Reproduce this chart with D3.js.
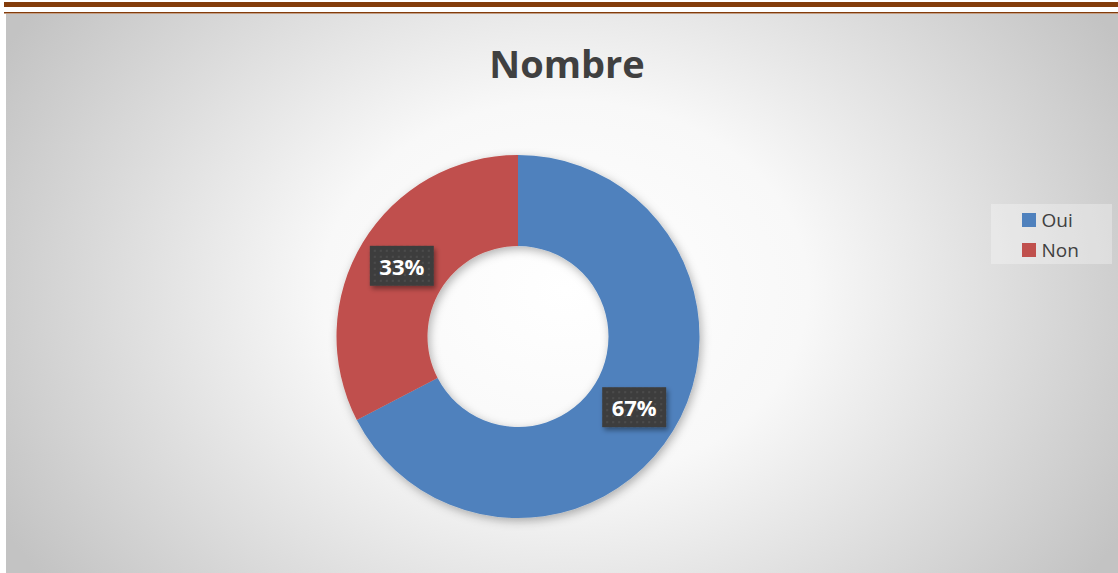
<!DOCTYPE html>
<html><head><meta charset="utf-8">
<script src="https://cdn.jsdelivr.net/npm/d3@7"></script>
<style>html,body{margin:0;padding:0;background:#fff;overflow:hidden}</style>
</head><body>
<script>
const categories = ["Oui", "Non"];
const values = [67.4, 32.6];
const labels = ["67%", "33%"];
const colors = ["#4f81bd", "#c0504d"];
const title = "Nombre";

const W = 1118, H = 573;
const FONT = "'Open Sans', 'Noto Sans', sans-serif";
const svg = d3.select("body").append("svg").attr("width", W).attr("height", H);
const defs = svg.append("defs");

const rg = defs.append("radialGradient").attr("id", "bg")
  .attr("gradientUnits", "userSpaceOnUse").attr("cx", 565).attr("cy", 290).attr("r", 640)
  .attr("gradientTransform", "translate(565,290) scale(1,0.78) translate(-565,-290)");
rg.append("stop").attr("offset", "0").attr("stop-color", "#ffffff");
rg.append("stop").attr("offset", "0.38").attr("stop-color", "#f8f8f8");
rg.append("stop").attr("offset", "1").attr("stop-color", "#c3c3c3");

const sh = defs.append("filter").attr("id", "shadow").attr("x", "-20%").attr("y", "-20%").attr("width", "140%").attr("height", "140%");
sh.append("feDropShadow").attr("dx", 2).attr("dy", 3).attr("stdDeviation", 5).attr("flood-color", "#000").attr("flood-opacity", 0.3);

const sh2 = defs.append("filter").attr("id", "shadow2").attr("x", "-30%").attr("y", "-30%").attr("width", "160%").attr("height", "160%");
sh2.append("feDropShadow").attr("dx", 2).attr("dy", 3).attr("stdDeviation", 2.5).attr("flood-color", "#000").attr("flood-opacity", 0.4);

const pat = defs.append("pattern").attr("id", "dots").attr("patternUnits", "userSpaceOnUse").attr("width", 6).attr("height", 6);
pat.append("rect").attr("width", 6).attr("height", 6).attr("fill", "#3e3e3e");
pat.append("rect").attr("x", 2).attr("y", 2).attr("width", 2).attr("height", 2).attr("fill", "#4c4c4c");

// top decorative rules
svg.append("rect").attr("x", 4).attr("y", 2).attr("width", W - 4).attr("height", 5).attr("fill", "#833c0b");
svg.append("rect").attr("x", 4).attr("y", 12).attr("width", W - 4).attr("height", 1.5).attr("fill", "#833c0b");

// chart area
svg.append("rect").attr("x", 6).attr("y", 14).attr("width", W - 6).attr("height", H - 14).attr("fill", "url(#bg)");

// title
svg.append("text").attr("x", 567).attr("y", 78).attr("text-anchor", "middle")
  .attr("font-family", FONT).attr("font-weight", "bold").attr("font-size", 38)
  .attr("fill", "#404040").text(title);

const cx = 518, cy = 336.5, rOuter = 181.5, rInner = 90.5;
const pie = d3.pie().sort(null).value(d => d)(values);
const arc = d3.arc().innerRadius(rInner).outerRadius(rOuter);
const g = svg.append("g").attr("transform", `translate(${cx},${cy})`);
g.append("g").attr("filter", "url(#shadow)").selectAll("path").data(pie).join("path")
  .attr("d", arc).attr("fill", (d, i) => colors[i]);

// labels
const lblArc = d3.arc().innerRadius((rInner + rOuter) / 2).outerRadius((rInner + rOuter) / 2);
const lg = g.selectAll("g.lbl").data(pie).join("g").attr("class", "lbl")
  .attr("transform", d => { const c = lblArc.centroid(d); return `translate(${c[0]},${c[1]})`; });
lg.append("rect").attr("x", -32).attr("y", -20).attr("width", 64).attr("height", 40)
  .attr("fill", "url(#dots)").attr("filter", "url(#shadow2)");
lg.append("text").attr("text-anchor", "middle").attr("y", 9)
  .attr("font-family", FONT).attr("font-weight", "bold").attr("font-size", 22).attr("fill", "#ffffff")
  .text((d, i) => labels[i]);

// legend
const leg = svg.append("g");
leg.append("rect").attr("x", 991).attr("y", 204).attr("width", 121).attr("height", 60)
  .attr("fill", "#ffffff").attr("fill-opacity", 0.3);
const items = leg.selectAll("g.it").data(categories).join("g").attr("class", "it")
  .attr("transform", (d, i) => `translate(1022,${213 + i * 30})`);
items.append("rect").attr("width", 14).attr("height", 14).attr("fill", (d, i) => colors[i]);
items.append("text").attr("x", 19.5).attr("y", 14)
  .attr("font-family", FONT).attr("font-size", 19).attr("fill", "#404040").text(d => d);
</script>
</body></html>
